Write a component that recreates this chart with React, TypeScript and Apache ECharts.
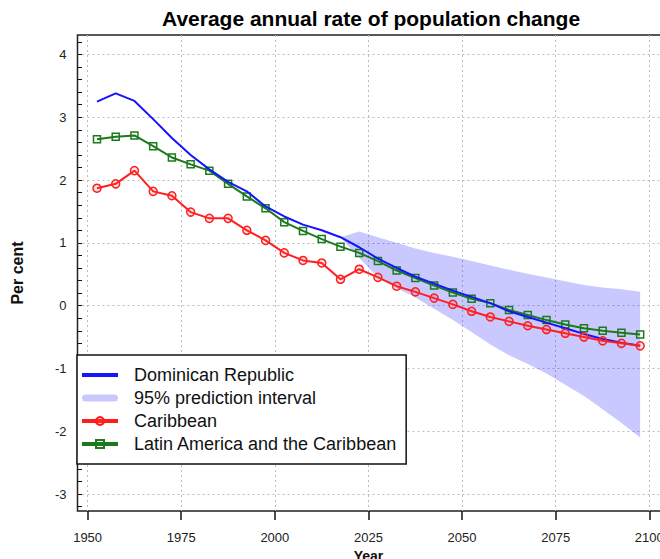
import React, { useEffect, useRef } from "react";
import * as echarts from "echarts";

// ---- data ----
const years = [
  1952.5, 1957.5, 1962.5, 1967.5, 1972.5, 1977.5, 1982.5, 1987.5, 1992.5, 1997.5,
  2002.5, 2007.5, 2012.5, 2017.5, 2022.5, 2027.5, 2032.5, 2037.5, 2042.5, 2047.5,
  2052.5, 2057.5, 2062.5, 2067.5, 2072.5, 2077.5, 2082.5, 2087.5, 2092.5, 2097.5,
];
const dominicanRepublic = [
  3.25, 3.38, 3.26, 2.97, 2.67, 2.4, 2.17, 1.97, 1.82, 1.58,
  1.42, 1.29, 1.2, 1.09, 0.93, 0.75, 0.6, 0.46, 0.35, 0.24,
  0.14, 0.04, -0.09, -0.18, -0.27, -0.36, -0.45, -0.53, -0.59, -0.64,
];
const caribbean = [
  1.87, 1.94, 2.15, 1.82, 1.75, 1.49, 1.39, 1.39, 1.2, 1.04,
  0.84, 0.72, 0.68, 0.42, 0.58, 0.45, 0.31, 0.22, 0.12, 0.02,
  -0.09, -0.18, -0.25, -0.32, -0.38, -0.44, -0.5, -0.56, -0.6, -0.64,
];
const latinAmerica = [
  2.65, 2.69, 2.71, 2.54, 2.36, 2.25, 2.15, 1.94, 1.74, 1.55,
  1.33, 1.19, 1.06, 0.94, 0.84, 0.71, 0.56, 0.44, 0.32, 0.21,
  0.11, 0.04, -0.07, -0.15, -0.23, -0.3, -0.36, -0.4, -0.43, -0.46,
];
const bandYears = [
  2017.5, 2022.5, 2027.5, 2032.5, 2037.5, 2042.5, 2047.5, 2052.5, 2057.5,
  2062.5, 2067.5, 2072.5, 2077.5, 2082.5, 2087.5, 2092.5, 2097.5,
];
const bandLower = [
  1.09, 0.76, 0.45, 0.28, 0.13, -0.05, -0.23, -0.42, -0.62,
  -0.79, -0.93, -1.08, -1.26, -1.44, -1.65, -1.87, -2.1,
];
const bandUpper = [
  1.09, 1.18, 1.09, 1.0, 0.91, 0.84, 0.78, 0.71, 0.64,
  0.57, 0.51, 0.45, 0.39, 0.33, 0.29, 0.26, 0.22,
];
const xTickMin = 1950;
const xTickMax = 2100;
const xTickStep = 25;

const TITLE = "Average annual rate of population change";
const FONT = "'Liberation Sans', Arial, Helvetica, sans-serif";

const BLUE = "#1414ff";
const RED = "#ff1e1e";
const GREEN = "#1b7a1b";
const BAND = "rgba(0,0,255,0.21)";
const GRIDLINE = { color: "#bdbdbd", width: 1, type: [2, 3] as any };

export default function App() {
  const ref = useRef<HTMLDivElement>(null);

  useEffect(() => {
    if (!ref.current) return;
    const chart = echarts.init(ref.current, undefined, { renderer: "svg" });

    const pair = (vals: number[]) => years.map((y, i) => [y, vals[i]]);

    const option: any = {
      animation: false,
      textStyle: { fontFamily: FONT },
      title: {
        text: TITLE,
        left: 162,
        top: 8,
        padding: 0,
        textStyle: { fontSize: 21, fontWeight: "bold", color: "#000", fontFamily: FONT },
      },
      grid: [
        { left: 77.5, right: -3, top: 35, bottom: 48, show: true, borderColor: "#222", borderWidth: 1.5, backgroundColor: "transparent", outerBoundsMode: "none" },
        { left: 87.6, right: 10.7, top: 35, bottom: 48, outerBoundsMode: "none" },
        { left: 77.5, right: -3, top: 41.9, bottom: 52.3, outerBoundsMode: "none" },
      ],
      xAxis: [
        { gridIndex: 0, type: "value", min: 1947.3, max: 2103.6, show: false },
        {
          gridIndex: 1, type: "value", min: xTickMin, max: xTickMax, interval: xTickStep,
          position: "bottom",
          axisLine: { show: false, onZero: false },
          axisTick: { show: true, inside: false, length: 9, lineStyle: { color: "#111", width: 1.5 } },
          axisLabel: { fontSize: 13, color: "#222", margin: 20, fontFamily: FONT, formatter: (v: number) => String(v) },
          splitLine: { show: true, lineStyle: GRIDLINE },
          name: "Year",
          nameLocation: "middle",
          nameGap: 35,
          nameTextStyle: { fontSize: 14, fontWeight: "bold", color: "#111", fontFamily: FONT },
        },
        { gridIndex: 2, type: "value", min: 1947.3, max: 2103.6, show: false },
      ],
      yAxis: [
        {
          gridIndex: 0, type: "value", min: -3.27, max: 4.31, splitNumber: 8,
          axisLine: { show: false, onZero: false },
          axisTick: { show: false },
          axisLabel: { fontSize: 13, color: "#222", margin: 11, showMinLabel: false, showMaxLabel: false, fontFamily: FONT },
          splitLine: { show: true, lineStyle: GRIDLINE, showMinLine: false, showMaxLine: false },
          name: "Per cent",
          nameLocation: "middle",
          nameRotate: 90,
          nameGap: 52,
          nameTextStyle: { fontSize: 16, fontWeight: "bold", color: "#111", fontFamily: FONT },
        },
        { gridIndex: 1, type: "value", min: -3.27, max: 4.31, show: false },
        {
          gridIndex: 2, type: "value", min: -3.2, max: 4.2, interval: 0.2,
          axisLine: { show: false, onZero: false },
          axisTick: { show: true, inside: true, length: 4.5, lineStyle: { color: "#111", width: 1 } },
          axisLabel: { show: false },
          splitLine: { show: false },
        },
      ],
      legend: {
        orient: "vertical",
        left: 77,
        top: 355,
        padding: [11, 9, 11, 3],
        itemWidth: 36,
        itemHeight: 10,
        itemGap: 5,
        backgroundColor: "#fff",
        borderColor: "#111",
        borderWidth: 1.5,
        selectedMode: false,
        lineStyle: { width: 4 },
        textStyle: { fontSize: 18, color: "#111", fontFamily: FONT, padding: [0, 0, 0, 11] },
        data: [
          { name: "Dominican Republic", itemStyle: { opacity: 0 } },
          {
            name: "95% prediction interval",
            icon: "path://M0,0L0.01,0M0,10L0.01,10M3.5,1.5L32.5,1.5A3.5,3.5,0,0,1,32.5,8.5L3.5,8.5A3.5,3.5,0,0,1,3.5,1.5Z",
            itemStyle: { color: BAND, borderWidth: 0 },
          },
          { name: "Caribbean" },
          { name: "Latin America and the Caribbean" },
        ],
      },
      series: [
        {
          name: "95% prediction interval",
          type: "custom",
          xAxisIndex: 0,
          yAxisIndex: 0,
          itemStyle: { color: BAND },
          data: bandYears.map((y, i) => [y, bandLower[i], bandUpper[i]]),
          encode: { x: 0, y: [1, 2] },
          renderItem: (params: any, api: any) => {
            if (params.dataIndex !== 0) return null;
            const pts: number[][] = [];
            for (let i = 0; i < bandYears.length; i++) pts.push(api.coord([bandYears[i], bandUpper[i]]));
            for (let i = bandYears.length - 1; i >= 0; i--) pts.push(api.coord([bandYears[i], bandLower[i]]));
            return { type: "polygon", shape: { points: pts }, style: { fill: BAND } };
          },
          z: 1,
        },
        {
          name: "Latin America and the Caribbean",
          type: "line",
          xAxisIndex: 0,
          yAxisIndex: 0,
          data: pair(latinAmerica),
          symbol: "rect",
          symbolSize: 7,
          lineStyle: { color: GREEN, width: 2 },
          itemStyle: { color: "rgba(255,255,255,0)", borderColor: GREEN, borderWidth: 1.5 },
          z: 2,
        },
        {
          name: "Dominican Republic",
          type: "line",
          xAxisIndex: 0,
          yAxisIndex: 0,
          data: pair(dominicanRepublic),
          symbol: "none",
          showSymbol: false,
          lineStyle: { color: BLUE, width: 2 },
          itemStyle: { color: BLUE },
          z: 3,
        },
        {
          name: "Caribbean",
          type: "line",
          xAxisIndex: 0,
          yAxisIndex: 0,
          data: pair(caribbean),
          symbol: "circle",
          symbolSize: 8,
          lineStyle: { color: RED, width: 2 },
          itemStyle: { color: "rgba(255,80,80,0.15)", borderColor: RED, borderWidth: 1.5 },
          z: 4,
        },
      ],
    };

    chart.setOption(option);
    return () => chart.dispose();
  }, []);

  return (
    <div
      ref={ref}
      style={{ position: "fixed", left: 0, top: 0, width: 660, height: 559, background: "#fff" }}
    />
  );
}
